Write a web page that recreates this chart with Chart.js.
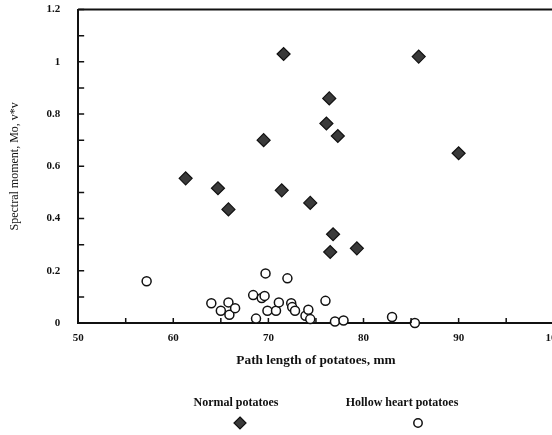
<!DOCTYPE html>
<html>
<head>
<meta charset="utf-8">
<script src="https://cdn.jsdelivr.net/npm/chart.js@4/dist/chart.umd.min.js"></script>
<style>
  html, body { margin: 0; padding: 0; background: #fff; overflow: hidden; }
  #wrap { width: 565px; height: 435px; }
</style>
</head>
<body>
<div id="wrap"><canvas id="potatoChart" width="565" height="435"></canvas></div>
<script>
// Spectral moment vs path length
const normalX = [61.3, 64.7, 65.8, 69.5, 71.6, 71.4, 76.4, 76.1, 77.3, 74.4, 76.8, 76.5, 79.3, 85.8, 90.0];
const normalY = [0.554, 0.516, 0.435, 0.70, 1.03, 0.508, 0.86, 0.764, 0.716, 0.46, 0.34, 0.272, 0.286, 1.02, 0.65];

const hollowX = [57.2, 64.0, 65.0, 65.8, 65.9, 66.5, 68.4, 69.3, 69.6, 68.7, 69.7, 69.9, 70.8, 71.1, 72.0, 72.4, 72.5, 72.8, 73.9, 74.2, 74.4, 76.0, 77.0, 77.9, 83.0, 85.4];
const hollowY = [0.16, 0.076, 0.047, 0.079, 0.032, 0.057, 0.107, 0.096, 0.104, 0.017, 0.19, 0.047, 0.047, 0.079, 0.171, 0.076, 0.061, 0.047, 0.028, 0.051, 0.015, 0.085, 0.006, 0.01, 0.023, 0.0];

const xTickStep = 5;
const yTickStep = 0.1;
const seriesNames = ["Normal potatoes", "Hollow heart potatoes"];

const toPoints = (xs, ys) => xs.map((x, i) => ({ x: x, y: ys[i] }));

const serif = "'Liberation Serif', 'DejaVu Serif', serif";
const ink = "#111";

// inward tick marks + top frame line
const frameTicks = {
  id: "frameTicks",
  afterDraw(chart) {
    const c = chart.ctx;
    const area = chart.chartArea;
    const xs = chart.scales.x;
    const ys = chart.scales.y;
    c.save();
    c.strokeStyle = ink;
    c.lineWidth = 1.5;
    c.beginPath();
    xs.ticks.forEach(t => {
      const px = xs.getPixelForValue(t.value);
      c.moveTo(px, area.bottom);
      c.lineTo(px, area.bottom - 5);
    });
    ys.ticks.forEach(t => {
      const py = ys.getPixelForValue(t.value);
      c.moveTo(area.left, py);
      c.lineTo(area.left + 6, py);
    });
    c.stroke();
    c.lineWidth = 2;
    c.beginPath();
    c.moveTo(area.left, area.top);
    c.lineTo(area.right, area.top);
    c.stroke();
    c.restore();
  }
};

// legend: name above the marker
const stackedLegend = {
  id: "stackedLegend",
  afterDraw(chart) {
    const c = chart.ctx;
    const spots = [{ x: 236, mx: 240, mark: "diamond" }, { x: 402, mx: 418, mark: "circle" }];
    c.save();
    c.font = "bold 12px " + serif;
    c.textAlign = "center";
    c.textBaseline = "middle";
    spots.forEach((s, i) => {
      c.fillStyle = ink;
      c.fillText(seriesNames[i], s.x, 403);
      c.beginPath();
      if (s.mark === "diamond") {
        c.moveTo(s.mx, 417);
        c.lineTo(s.mx + 6, 423);
        c.lineTo(s.mx, 429);
        c.lineTo(s.mx - 6, 423);
        c.closePath();
        c.fillStyle = "#3a3a3a";
        c.fill();
        c.strokeStyle = ink;
        c.lineWidth = 1.2;
        c.stroke();
      } else {
        c.arc(s.mx, 423, 4.2, 0, Math.PI * 2);
        c.fillStyle = "#fff";
        c.fill();
        c.strokeStyle = ink;
        c.lineWidth = 1.5;
        c.stroke();
      }
    });
    c.restore();
  }
};

const ctx = document.getElementById("potatoChart").getContext("2d");

const potatoChart = new Chart(ctx, {
  type: "scatter",
  data: {
    datasets: [
      {
        label: seriesNames[0],
        data: toPoints(normalX, normalY),
        pointStyle: "rectRot",
        pointRadius: 6.5,
        pointHoverRadius: 6.5,
        backgroundColor: "#3a3a3a",
        borderColor: ink,
        borderWidth: 1.2,
      },
      {
        label: seriesNames[1],
        data: toPoints(hollowX, hollowY),
        pointStyle: "circle",
        pointRadius: 4.5,
        pointHoverRadius: 4.5,
        backgroundColor: "#fff",
        borderColor: ink,
        borderWidth: 1.5,
      },
    ],
  },
  options: {
    responsive: false,
    animation: false,
    clip: false,
    layout: {
      autoPadding: false,
      padding: { top: 0, left: 4, right: 0, bottom: 66 },
    },
    plugins: {
      legend: { display: false },
      tooltip: { enabled: false },
    },
    scales: {
      x: {
        type: "linear",
        min: 50,
        max: 100,
        grid: { drawOnChartArea: false, drawTicks: true, tickLength: 7, tickColor: "rgba(0,0,0,0)" },
        border: { display: true, color: ink, width: 2 },
        ticks: {
          stepSize: xTickStep,
          padding: 3,
          color: ink,
          maxRotation: 0,
          font: { family: serif, size: 11, weight: "bold", lineHeight: 1 },
          callback: v => (v % 10 === 0 ? String(v) : ""),
        },
        title: {
          display: true,
          text: "Path length of potatoes, mm",
          color: ink,
          padding: { top: 6, bottom: 0 },
          font: { family: serif, size: 13.3, weight: "bold" },
        },
      },
      y: {
        min: 0,
        max: 1.2,
        grid: { drawOnChartArea: false, drawTicks: true, tickLength: 15, tickColor: "rgba(0,0,0,0)" },
        border: { display: true, color: ink, width: 2 },
        ticks: {
          stepSize: yTickStep,
          padding: 3,
          color: ink,
          font: { family: serif, size: 11, weight: "bold" },
          callback: v => {
            const tenths = Math.round(v * 10);
            return tenths % 2 === 0 ? String(tenths / 10) : "";
          },
        },
        title: {
          display: true,
          text: "Spectral moment, Mo, v*v",
          color: ink,
          padding: { bottom: 21 },
          font: { family: serif, size: 12 },
        },
      },
    },
  },
  plugins: [frameTicks, stackedLegend],
});
</script>
</body>
</html>
